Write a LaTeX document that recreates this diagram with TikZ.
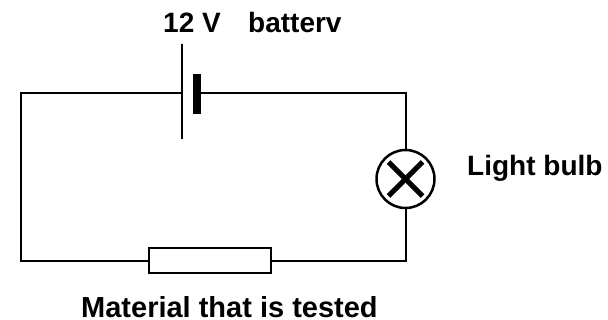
\documentclass[tikz,border=0pt]{standalone}
\usepackage{fontspec}
\setmainfont{Liberation Sans}
\tikzset{
  wire/.style={line width=2pt,line cap=rect,line join=miter},
  label/.style={inner sep=0pt,anchor=base west,font=\fontsize{28}{32}\selectfont\bfseries},
  biglabel/.style={label,font=\fontsize{29}{33}\selectfont\bfseries},
  longplate/.style={draw,line width=2pt,minimum width=0pt,minimum height=95pt,inner sep=0pt,outer sep=0pt},
  shortplate/.style={fill=black,minimum width=8pt,minimum height=40pt,inner sep=0pt,outer sep=0pt},
  lamp/.style={circle,draw,line width=2.5pt,minimum size=58pt,inner sep=0pt,outer sep=0pt},
  resistor/.style={draw,fill=white,line width=2pt,minimum width=122pt,minimum height=25pt,inner sep=0pt,outer sep=0pt}
}
\begin{document}
\begin{tikzpicture}[x=1pt,y=-1pt]
\useasboundingbox (0,0) rectangle (608,320);
\node[longplate] (plateL) at (181.5,91.5) {};
\node[shortplate] (plateS) at (197,94) {};
\node[lamp] (bulb) at (405.5,179) {};
\node[resistor] (res) at (210,260.5) {};
\coordinate (tl) at (21,93);
\coordinate (bl) at (21,261);
\coordinate (tr) at (405.5,93);
\coordinate (br) at (405.5,261);
\draw[wire,line cap=butt] (plateL.center |- tl) -- (tl) -- (bl) -- (res.west |- bl);
\draw[wire,line cap=butt] (plateS.center |- tr) -- (tr) -- (bulb.north);
\draw[wire,line cap=butt] (bulb.south) -- (br) -- (res.east |- br);
\draw[line width=5pt] (bulb.center)+(-17,-17) -- +(17,17);
\draw[line width=5pt] (bulb.center)+(17,-17) -- +(-17,17);
\node[label] (t1) at (163,33) {12 V};
\node[label] (t2) at (248,33) {batterv};
\node[label] (t3) at (467,176) {Light bulb};
\node[biglabel] (t4) at (81,317.5) {Material that is tested};
\end{tikzpicture}
\end{document}
